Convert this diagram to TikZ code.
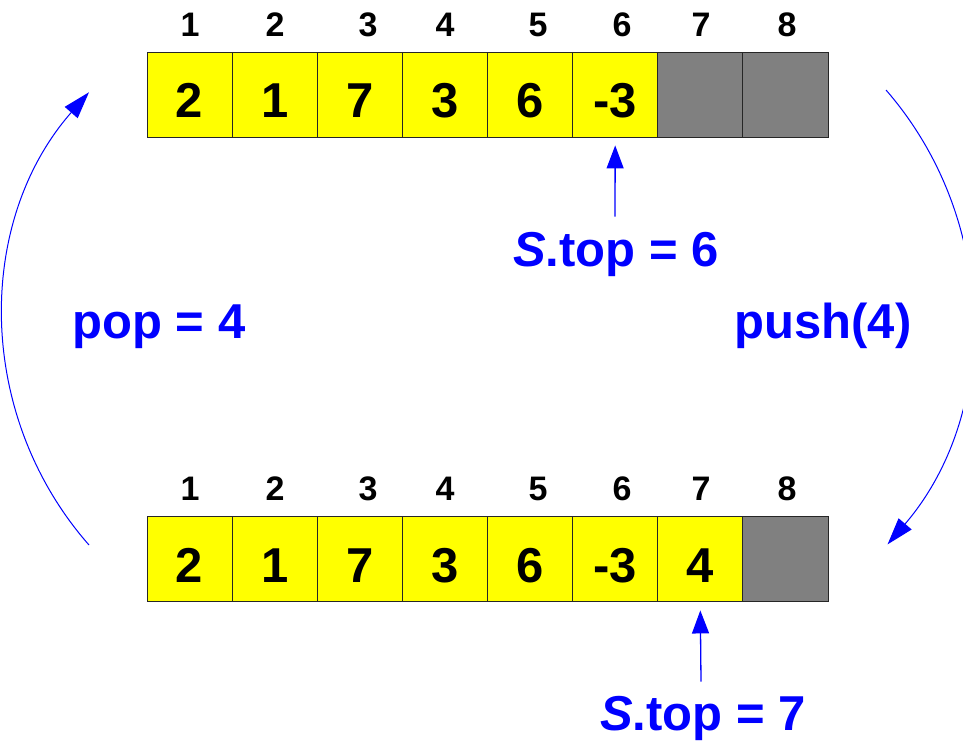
\documentclass[tikz,border=0pt]{standalone}
\usepackage{fontspec}
\setmainfont{Liberation Sans}
\usetikzlibrary{arrows.meta}
\definecolor{cellyellow}{RGB}{255,255,0}
\definecolor{cellgray}{RGB}{128,128,128}
\definecolor{ptrblue}{RGB}{0,0,255}
\tikzset{
  cell/.style={draw=black!85, line width=0.9pt, fill=cellyellow, minimum width=85.125pt, minimum height=85pt,
    inner sep=0pt, text height=47pt, text depth=0pt, font=\fontsize{49}{49}\selectfont\bfseries},
  emptycell/.style={cell, fill=cellgray},
  idx/.style={inner sep=0pt, font=\fontsize{34}{34}\selectfont\bfseries},
  bluetxt/.style={inner sep=0pt, anchor=base, text=ptrblue, font=\fontsize{49}{49}\selectfont\bfseries},
  ptr/.style={draw=ptrblue, line width=1.3pt, -{Triangle[length=23pt,width=17pt]}},
  cyc/.style={draw=ptrblue, line width=1pt, -{Triangle[length=27pt,width=17pt]}}
}
\begin{document}
\begin{tikzpicture}[x=1pt,y=1pt]
\useasboundingbox (0,0) rectangle (963,740);
\clip (0,0) rectangle (963,740);
% top array
\node[cell] (t1) at (189.56,645.5) {2};
\node[cell] (t2) at (274.69,645.5) {1};
\node[cell] (t3) at (359.81,645.5) {7};
\node[cell] (t4) at (444.94,645.5) {3};
\node[cell] (t5) at (530.06,645.5) {6};
\node[cell] (t6) at (615.19,645.5) {-3};
\node[emptycell] (t7) at (700.31,645.5) {};
\node[emptycell] (t8) at (785.44,645.5) {};
% top indices
\node[idx] (ti1) at (190,715) {1};
\node[idx] (ti2) at (275,715) {2};
\node[idx] (ti3) at (368,715) {3};
\node[idx] (ti4) at (445,715) {4};
\node[idx] (ti5) at (538,715) {5};
\node[idx] (ti6) at (622,715) {6};
\node[idx] (ti7) at (701,715) {7};
\node[idx] (ti8) at (787,715) {8};
% bottom array
\node[cell] (b1) at (189.56,181.5) {2};
\node[cell] (b2) at (274.69,181.5) {1};
\node[cell] (b3) at (359.81,181.5) {7};
\node[cell] (b4) at (444.94,181.5) {3};
\node[cell] (b5) at (530.06,181.5) {6};
\node[cell] (b6) at (615.19,181.5) {-3};
\node[cell] (b7) at (700.31,181.5) {4};
\node[emptycell] (b8) at (785.44,181.5) {};
% bottom indices
\node[idx] (bi1) at (190,251) {1};
\node[idx] (bi2) at (275,251) {2};
\node[idx] (bi3) at (368,251) {3};
\node[idx] (bi4) at (445,251) {4};
\node[idx] (bi5) at (538,251) {5};
\node[idx] (bi6) at (622,251) {6};
\node[idx] (bi7) at (701,251) {7};
\node[idx] (bi8) at (787,251) {8};
% labels
\node[bluetxt] (s1) at (616,473) {{\itshape S}.top = 6};
\node[bluetxt] (s2) at (703,10) {{\itshape S}.top = 7};
\node[bluetxt] (pop) at (159,402) {pop = 4};
\node[bluetxt] (push) at (823,402) {push(4)};
% pointer arrows
\draw[ptr] ([xshift=-1pt,yshift=16pt]s1.north) -- ([yshift=-8pt]t6.south);
\draw[ptr] ([xshift=-2pt,yshift=14pt]s2.north) -- ([yshift=-9pt]b7.south);
% cycle arrows
\coordinate (popS) at (89,195);
\coordinate (pushS) at (886,650);
\draw[cyc] (popS) arc[start angle=221.3, end angle=138.7, radius=343];
\draw[cyc] (pushS) arc[start angle=41, end angle=-40.6, radius=347.7];
\end{tikzpicture}
\end{document}
